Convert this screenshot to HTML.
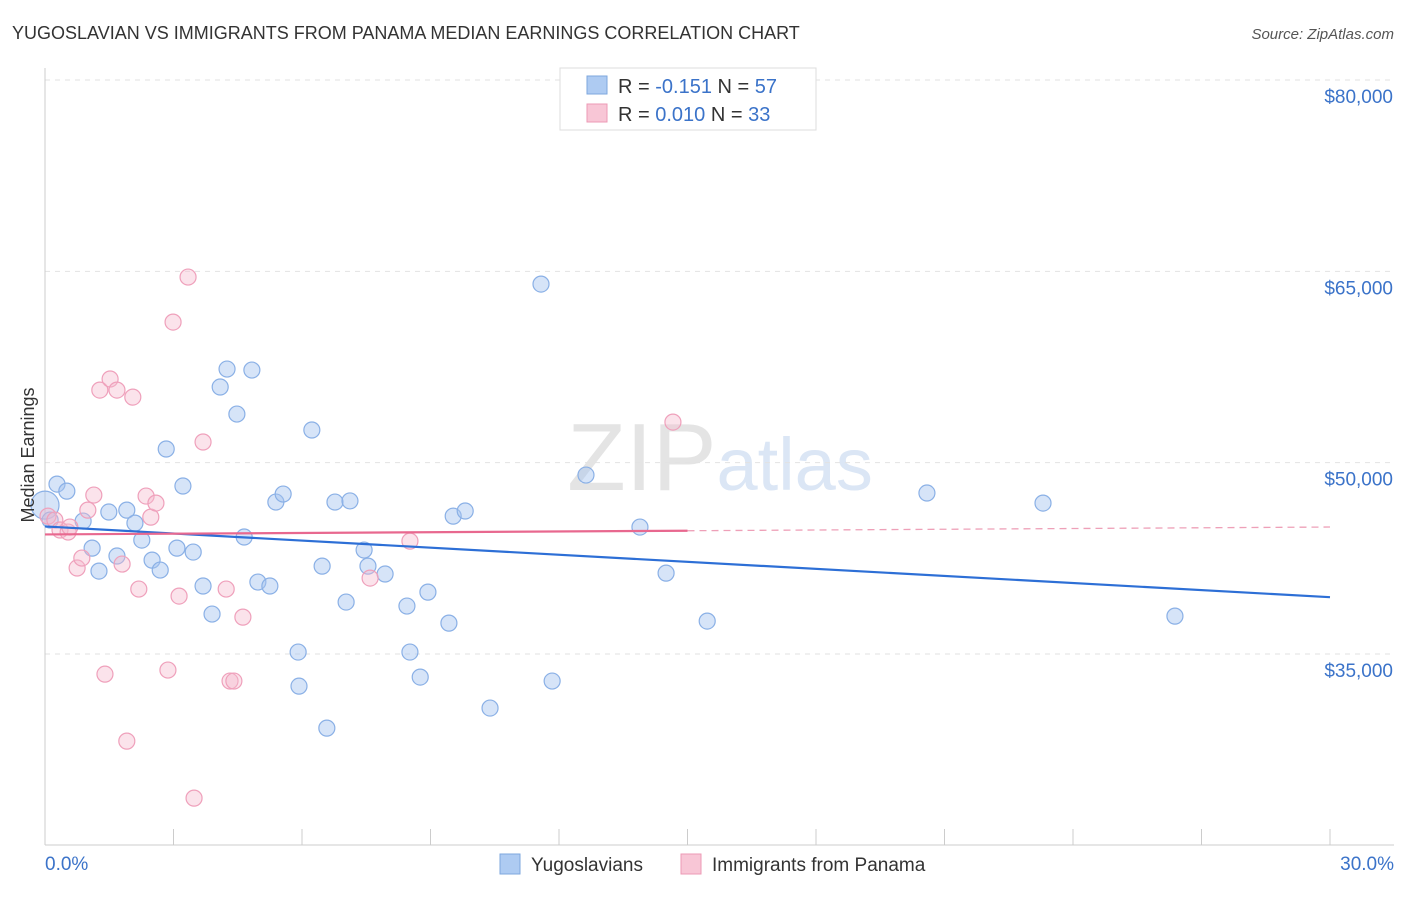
<!DOCTYPE html>
<html><head><meta charset="utf-8"><style>
body{margin:0;background:#fff;font-family:"Liberation Sans",sans-serif;}
svg text{font-family:"Liberation Sans",sans-serif;}
</style></head><body>
<svg id="chart" width="1406" height="892" xmlns="http://www.w3.org/2000/svg">
<text x="12" y="39" font-size="18" fill="#333">YUGOSLAVIAN VS IMMIGRANTS FROM PANAMA MEDIAN EARNINGS CORRELATION CHART</text>
<text x="1394" y="39" font-size="15" fill="#555" text-anchor="end" font-style="italic">Source: ZipAtlas.com</text>
<text x="720" y="490" font-size="96" fill="#e4e4e4" text-anchor="middle" font-family="Liberation Serif">ZIP<tspan fill="#dbe6f5" font-family="Liberation Sans" font-size="74">atlas</tspan></text>
<g id="grid"></g>
<g id="axes"></g>
<g id="marks"></g>
<text transform="translate(34,455) rotate(-90)" font-size="18" fill="#333" text-anchor="middle">Median Earnings</text>
<g>
<rect x="560" y="68" width="256" height="62" fill="#fff" stroke="#ddd"/>
<rect x="587" y="76" width="20" height="18" fill="#aecbf2" stroke="#7ea7de"/>
<text x="618" y="93" font-size="20" fill="#333">R = <tspan fill="#3b73c9">-0.151</tspan>   N = <tspan fill="#3b73c9">57</tspan></text>
<rect x="587" y="104" width="20" height="18" fill="#f8c6d6" stroke="#ec9ab5"/>
<text x="618" y="121" font-size="20" fill="#333">R = <tspan fill="#3b73c9">0.010</tspan>    N = <tspan fill="#3b73c9">33</tspan></text>
</g>
<g>
<rect x="500" y="854" width="20" height="20" fill="#aecbf2" stroke="#7ea7de"/>
<text x="531" y="871" font-size="19" fill="#333">Yugoslavians</text>
<rect x="681" y="854" width="20" height="20" fill="#f8c6d6" stroke="#ec9ab5"/>
<text x="712" y="871" font-size="19" fill="#333">Immigrants from Panama</text>
</g>
</svg>
<script>
const yTicks=[35000,50000,65000,80000];
const yTickLabels=["$35,000","$50,000","$65,000","$80,000"];
const xTickLabels=["0.0%","30.0%"];
const blueX=[0.0,0.28,0.51,0.89,1.10,1.26,1.49,1.68,1.91,2.10,2.26,2.50,2.69,2.83,3.08,3.22,3.46,3.69,3.90,4.09,4.25,4.48,4.65,4.83,4.97,5.25,5.39,5.56,5.91,5.93,6.23,6.47,6.58,6.77,7.03,7.12,7.45,7.54,7.94,8.45,8.52,8.76,8.94,9.43,9.53,9.81,10.39,11.58,11.84,12.63,13.89,14.50,15.46,20.59,23.30,26.38,0.12];
const blueY=[46670,48320,47770,45420,43300,41500,46130,42680,46280,45260,43930,42360,41580,51070,43300,48170,42990,40330,38130,55930,57340,53810,44170,57260,40640,40330,46910,47540,35150,32480,52560,41890,29190,46910,39070,47000,43150,41890,41270,38760,35150,33190,39850,37420,45810,46210,30760,64000,32880,49030,44950,41340,37580,47620,46830,37970,45500];
const pinkX=[0.07,0.23,0.35,0.54,0.58,0.75,0.86,1.00,1.14,1.28,1.40,1.52,1.68,1.80,1.91,2.05,2.19,2.36,2.47,2.59,2.87,2.99,3.13,3.34,3.48,3.69,4.23,4.32,4.41,4.62,7.59,8.52,14.66];
const pinkY=[45810,45500,44720,44560,44950,41740,42520,46280,47460,55690,33420,56560,55690,42050,28170,55140,40090,47380,45730,46830,33740,61020,39540,64550,23700,51620,40090,32880,32880,37890,40950,43850,53180];
const NS="http://www.w3.org/2000/svg";
const X=p=>45+p*(1330-45)/30;
const Y=v=>80+(80000-v)*(654-80)/45000;
function mk(tag,attrs,parent){const e=document.createElementNS(NS,tag);for(const k in attrs)e.setAttribute(k,attrs[k]);document.getElementById(parent).appendChild(e);return e;}
yTicks.forEach((t,i)=>{
 const g=mk('line',{x1:45,x2:1394,y1:Y(t),y2:Y(t),stroke:'#e2e2e2','stroke-dasharray':'5,5'},'grid');
 
 
 const tx=mk('text',{x:1393,y:Y(t)+23,'font-size':19,fill:'#3b73c9','text-anchor':'end'},'axes');
 tx.textContent=yTickLabels[i];
 
 
});
const xa=mk('line',{x1:45,x2:1394,y1:845,y2:845,stroke:'#ccc'},'axes');


const ya=mk('line',{x1:45,x2:45,y1:68,y2:845,stroke:'#ccc'},'axes');


for(let i=0;i<=10;i++){const l=mk('line',{x1:X(i*3),x2:X(i*3),y1:829,y2:845,stroke:'#ccc'},'axes');
 
 }
const xl0=mk('text',{x:45,y:870,'font-size':19,fill:'#3b73c9'},'axes');xl0.textContent=xTickLabels[0];


const xl1=mk('text',{x:1394,y:870,'font-size':19,fill:'#3b73c9','text-anchor':'end'},'axes');xl1.textContent=xTickLabels[1];


function fit(xs,ys){const n=xs.length;let mx=0,my=0;for(let i=0;i<n;i++){mx+=xs[i];my+=ys[i];}mx/=n;my/=n;let sxy=0,sxx=0;for(let i=0;i<n;i++){sxy+=(xs[i]-mx)*(ys[i]-my);sxx+=(xs[i]-mx)**2;}const b=sxy/sxx;return x=>my+b*(x-mx);}
blueX.forEach((x,i)=>{const c=mk('circle',{cx:X(x),cy:Y(blueY[i]),r:i===0?14:8,fill:'rgba(164,196,240,0.45)',stroke:'#8ab0e6','stroke-width':1.2},'marks');
 
 });
pinkX.forEach((x,i)=>{const c=mk('circle',{cx:X(x),cy:Y(pinkY[i]),r:8,fill:'rgba(246,184,204,0.4)',stroke:'#efa0bb','stroke-width':1.2},'marks');
 
 });
const fb=fit(blueX,blueY);
const bl=mk('line',{x1:X(0),y1:Y(fb(0)),x2:X(30),y2:Y(fb(30)),stroke:'#2d6fd6','stroke-width':2.2},'marks');


const fp=fit(pinkX,pinkY);
const pl=mk('line',{x1:X(0),y1:Y(fp(0)),x2:X(15),y2:Y(fp(15)),stroke:'#e8688f','stroke-width':2.2},'marks');


const pd=mk('line',{x1:X(15),y1:Y(fp(15)),x2:X(30),y2:Y(fp(30)),stroke:'#eea0b8','stroke-width':1.3,'stroke-dasharray':'7,5'},'marks');


</script>
</body></html>
